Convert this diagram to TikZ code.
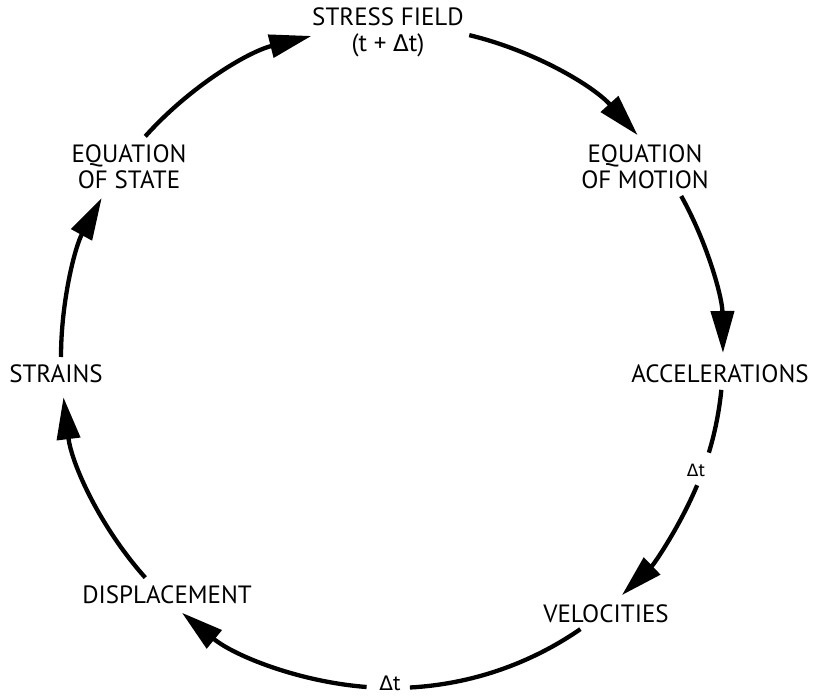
\documentclass[tikz,border=0pt]{standalone}
\usepackage{fontspec}
\setmainfont{PT Sans}
\newfontfamily\gk{DejaVu Sans}
\usetikzlibrary{arrows.meta,calc}
\tikzset{
  lbl/.style={font=\fontsize{25}{26}\selectfont, align=center, inner sep=0pt},
  dtl/.style={inner sep=0pt},
  conn/.style={line width=4.3pt, -{Triangle[length=42pt,width=23pt]}},
  plain/.style={line width=4.3pt}
}
\begin{document}
\begin{tikzpicture}[x=1pt,y=1pt]
\useasboundingbox (0,0) rectangle (814,697);
\coordinate (c) at (392,340);
% labels
\node[lbl] (sf) at (388,665) {STRESS FIELD\\(t + {\gk\fontsize{23}{26}\selectfont Δ}t)};
\node[lbl] (eqm) at (645,530) {EQUATION\\OF MOTION};
\node[lbl] (acc) at (720,323) {ACCELERATIONS};
\node[lbl] (vel) at (606,83) {VELOCITIES};
\node[lbl] (disp) at (167,102) {DISPLACEMENT};
\node[lbl] (str) at (56,323) {STRAINS};
\node[lbl] (eqs) at (129,530) {EQUATION\\OF STATE};
\node[dtl, font=\fontsize{19}{20}\selectfont] (dt1) at (696,227) {{\gk\fontsize{17}{20}\selectfont Δ}t};
\node[dtl, font=\fontsize{22}{24}\selectfont] (dt2) at (390,14) {{\gk\fontsize{20}{24}\selectfont Δ}t};
% connectors (arcs of one circle about c)
\draw[conn] ($(c)+(138.2:331)$) arc[start angle=138.2, end angle=104.1, radius=331];
\draw[conn] ($(c)+(76.5:331)$) arc[start angle=76.5, end angle=42.1, radius=331];
\draw[conn] ($(c)+(29.1:331)$) arc[start angle=29.1, end angle=0.7, radius=331];
\draw[plain] ($(c)+(-5.7:331)$) arc[start angle=-5.7, end angle=-16.8, radius=331];
\draw[conn] ($(c)+(-22.8:331)$) arc[start angle=-22.8, end angle=-46, radius=331];
\draw[plain] ($(c)+(-55.3:331)$) arc[start angle=-55.3, end angle=-86.9, radius=331];
\draw[conn] ($(c)+(-94.4:331)$) arc[start angle=-94.4, end angle=-129.4, radius=331];
\draw[conn] ($(c)+(221.8:331)$) arc[start angle=221.8, end angle=187, radius=331];
\draw[conn] ($(c)+(180:331)$) arc[start angle=180, end angle=151.3, radius=331];
\end{tikzpicture}
\end{document}
